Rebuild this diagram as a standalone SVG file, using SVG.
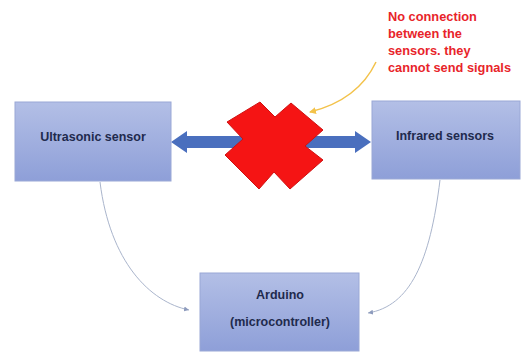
<svg xmlns="http://www.w3.org/2000/svg" width="532" height="354" viewBox="0 0 532 354">
<defs>
<linearGradient id="boxg" x1="0" y1="0" x2="0" y2="1">
<stop offset="0" stop-color="#b3bfe6"/>
<stop offset="1" stop-color="#8e9fd8"/>
</linearGradient>
<marker id="ah" markerWidth="6" markerHeight="6" refX="5" refY="3" orient="auto" markerUnits="userSpaceOnUse">
<path d="M0,0.5 L5,3 L0,5.5 Z" fill="#8d9bbd"/>
</marker>
<marker id="ahy" markerWidth="8" markerHeight="8" refX="6" refY="4" orient="auto" markerUnits="userSpaceOnUse">
<path d="M0,0.5 L7,4 L0,7.5 Z" fill="#f3c24a"/>
</marker>
</defs>
<style>
.box{fill:url(#boxg);stroke:#9aa8d6;stroke-width:1}
.lbl{font-family:"Liberation Sans",Arial,sans-serif;font-weight:bold;font-size:12.5px;fill:#1f2a4d;text-anchor:middle}
.note{font-family:"Liberation Sans",Arial,sans-serif;font-weight:bold;font-size:12.8px;fill:#e8242a}
.conn{fill:none;stroke:#aab5cc;stroke-width:1}
</style>
<rect width="532" height="354" fill="#ffffff"/>
<g id="connectors">
<path class="conn" d="M100,182 C110,262 150,302 189,310" marker-end="url(#ah)"/>
<path class="conn" d="M440,180 C430,262 410,306 368,313" marker-end="url(#ah)"/>
<path d="M376,62 Q358,100 310,112" fill="none" stroke="#f3c24a" stroke-width="1.5" marker-end="url(#ahy)"/>
<polygon id="double-arrow" points="171,142 187,131 187,136 355,136 355,131 371,142 355,153 355,148 187,148 187,153" fill="#4a6fbe"/>
</g>
<g id="ultrasonic">
<rect class="box" x="15" y="102" width="156" height="79"/>
<text class="lbl" x="93" y="141">Ultrasonic sensor</text>
</g>
<g id="infrared">
<rect class="box" x="372" y="101" width="148" height="78"/>
<text class="lbl" x="445" y="140">Infrared sensors</text>
</g>
<g id="arduino">
<rect class="box" x="200" y="273" width="159" height="78"/>
<text class="lbl" x="280" y="299">Arduino</text>
<text class="lbl" x="280" y="326">(microcontroller)</text>
</g>
<g id="cross">
<polygon points="227,122 260,102 275,117 291,103 323,130 305,146 323,160 290,189 274,172 259,189 225,155 243,139" fill="#f51414" stroke="#d01010" stroke-width="1" stroke-linejoin="round"/>
</g>
<g id="note">
<text class="note" x="388" y="21">No connection</text>
<text class="note" x="388" y="38">between the</text>
<text class="note" x="388" y="55">sensors. they</text>
<text class="note" x="388" y="72">cannot send signals</text>
</g>
</svg>
